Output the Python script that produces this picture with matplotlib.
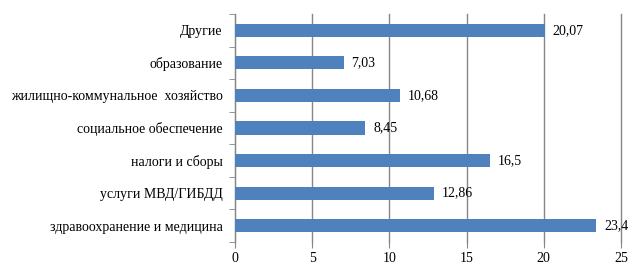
import matplotlib
matplotlib.use("Agg")
import matplotlib.pyplot as plt
import numpy as np

categories = ["здравоохранение и медицина", "услуги МВД/ГИБДД", "налоги и сборы",
              "социальное обеспечение", "жилищно-коммунальное  хозяйство",
              "образование", "Другие"]
values = [23.4, 12.86, 16.5, 8.45, 10.68, 7.03, 20.07]
labels = ["23,4", "12,86", "16,5", "8,45", "10,68", "7,03", "20,07"]
xticks = [0, 5, 10, 15, 20, 25]

plt.rcParams['font.family'] = ['Liberation Serif', 'DejaVu Serif']
fs = 10
fig = plt.figure(figsize=(6.43, 2.75), dpi=100)
ax = fig.add_axes([235/643, 1-242/275, (621-235)/643, (242-14)/275])

y = np.arange(len(categories))
ax.barh(y, values, height=0.4, color='#4F81BD', zorder=3)
for yi, v, l in zip(y, values, labels):
    ax.text(v + 0.5, yi, l, va='center', ha='left', fontsize=fs, zorder=4)

ax.set_xlim(0, 25)
ax.set_ylim(-0.5, len(categories) - 0.5)
ax.set_xticks(xticks)
ax.set_xticklabels([str(t) for t in xticks], fontsize=fs)
ax.grid(axis='x', color='#868686', linewidth=1.0, zorder=0)
for gl in ax.get_xgridlines():
    gl.set_clip_on(False)
ax.set_yticks(y)
ax.set_yticklabels(categories, fontsize=fs)
ax.tick_params(axis='y', length=0, pad=9)
ax.set_yticks(np.arange(-0.5, len(categories)), minor=True)
ax.tick_params(axis='y', which='minor', length=4, color='#868686')
ax.tick_params(axis='x', length=4, color='#868686', pad=3)
for s in ['top', 'right', 'bottom']:
    ax.spines[s].set_visible(False)
ax.spines['left'].set_color('#868686')

fig.savefig('out.png', dpi=100)
